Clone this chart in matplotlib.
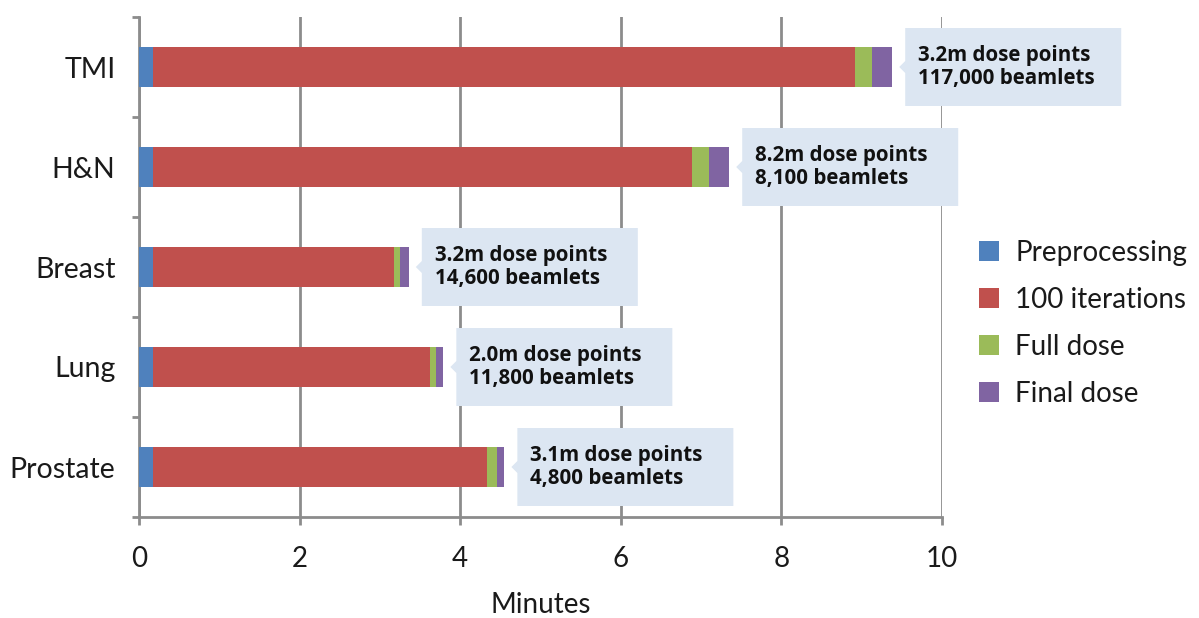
import numpy as np
import matplotlib
matplotlib.use('Agg')
import matplotlib.pyplot as plt
import matplotlib.transforms as mtransforms
from matplotlib.patches import Polygon, Patch

plt.rcParams['font.family'] = ['Lato', 'DejaVu Sans']

# Data (minutes), rows top to bottom
cases = ['TMI', 'H&N', 'Breast', 'Lung', 'Prostate']
preprocessing = [0.18, 0.18, 0.18, 0.18, 0.18]
iterations = [8.74, 6.71, 3.00, 3.44, 4.15]
full_dose = [0.21, 0.21, 0.07, 0.08, 0.13]
final_dose = [0.25, 0.25, 0.11, 0.09, 0.09]
dose_points = ['3.2m', '8.2m', '3.2m', '2.0m', '3.1m']
beamlets = ['117,000', '8,100', '14,600', '11,800', '4,800']

series = ['Preprocessing', '100 iterations', 'Full dose', 'Final dose']
colors = ['#4F81BD', '#C0504D', '#9BBB59', '#8064A2']
grid_col = '#8C8C8C'
callout_col = '#DCE6F2'
text_col = '#1A1A1A'

fig = plt.figure(figsize=(11.99, 6.18), dpi=100)
ax = fig.add_axes([139 / 1199, 1 - 517 / 618, (942 - 139) / 1199, 500 / 618])

y = np.arange(len(cases))
left = np.zeros(len(cases))
for vals, col, name in zip([preprocessing, iterations, full_dose, final_dose], colors, series):
    ax.barh(y, vals, left=left, height=0.4, color=col, label=name, zorder=3)
    left = left + np.array(vals)

ax.set_xlim(0, 10)
ax.set_ylim(len(cases) - 0.5, -0.5)

# Gridlines and spines
ax.set_xticks([0, 2, 4, 6, 8, 10])
ax.xaxis.grid(True, color=grid_col, linewidth=2, zorder=0)
for spine in 'right', 'top':
    ax.spines[spine].set_visible(False)
for spine in 'left', 'bottom':
    ax.spines[spine].set_color(grid_col)
    ax.spines[spine].set_linewidth(2)
ax.tick_params(axis='x', length=6, width=2, color=grid_col, labelsize=20, pad=15,
               labelcolor=text_col)

# Category boundary ticks, labels at centers
ax.set_yticks(np.arange(len(cases) + 1) - 0.5)
ax.set_yticklabels([])
ax.tick_params(axis='y', which='major', length=5, width=2, color=grid_col)
ax.set_yticks(y, minor=True)
ax.set_yticklabels(cases, minor=True)
ax.tick_params(axis='y', which='minor', length=0, labelsize=20.5, pad=17,
               labelcolor=text_col)

ax.set_xlabel('Minutes', fontsize=20, labelpad=14, color=text_col)

# Callouts
for yi, total, dp, bl in zip(y, left, dose_points, beamlets):
    trans = mtransforms.IdentityTransform() + mtransforms.ScaledTranslation(total, yi, ax.transData)
    pts = [(13, 39), (13, 6), (7, 0), (13, -6), (13, -39), (229, -39), (229, 39)]
    ax.add_patch(Polygon(pts, closed=True, transform=trans, facecolor=callout_col,
                         edgecolor='none', zorder=4, clip_on=False))
    ax.annotate(f'{dp} dose points\n{bl} beamlets', xy=(total, yi), xycoords='data',
                xytext=(26, 0), textcoords='offset pixels', ha='left', va='center',
                fontsize=14.8, fontweight='bold', family=['Open Sans', 'DejaVu Sans'],
                color='#111111', linespacing=1.12, zorder=5, annotation_clip=False)

handles = [Patch(facecolor=c, edgecolor='none') for c in colors]
leg = fig.legend(handles, series, loc='upper left', bbox_to_anchor=(979 / 1199, 1 - 240 / 618),
                 frameon=False, fontsize=20, handlelength=0.72, handleheight=0.72,
                 handletextpad=0.58, labelspacing=0.75, borderaxespad=0, borderpad=0)
for t in leg.get_texts():
    t.set_color(text_col)

fig.savefig('out.png', dpi=100)
